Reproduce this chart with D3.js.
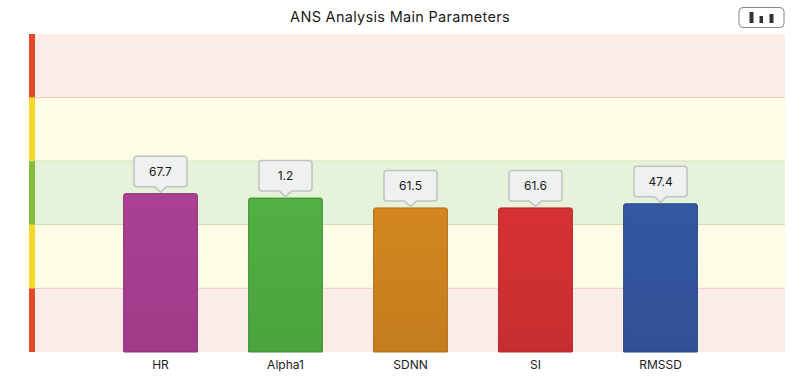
<!doctype html>
<html lang="en">
<head>
<meta charset="UTF-8" />
<title>ANS Analysis Main Parameters</title>
<style>
    html, body { margin: 0; padding: 0; background: #fff; overflow: hidden; }
    text { font-family: 'Inter', sans-serif; fill: #1c1c1c; }
    .chart-title { font-size: 14.5px; letter-spacing: 0.3px; }
    .tick text { font-size: 12px; }
    .callout-label { font-size: 12px; }
</style>
<script src="https://d3js.org/d3.v7.min.js"></script>
</head>
<body>
<div id="chart-container"></div>
<script>
var parameters = ['HR', 'Alpha1', 'SDNN', 'SI', 'RMSSD'];
// bar height on the 0-100 zone scale, the printed value is something else
var barLevels = [49.8, 48.4, 45.3, 45.3, 46.6];
var readings = ['67.7', '1.2', '61.5', '61.6', '47.4'];
var barColors = ['#a63e8f', '#4eab40', '#cd821f', '#d03033', '#33559d'];
var barEdges = ['#8c2f78', '#3f8f35', '#b06e18', '#b32428', '#264684'];

var zoneFrom = [80, 60, 40, 20, 0];
var zoneTo = [100, 80, 60, 40, 20];
var zoneFill = ['#fcece8', '#fefce6', '#e6f2d9', '#fefce6', '#fcece8'];
var zoneStrip = ['#e04a26', '#f5d82a', '#84bd3e', '#f5d82a', '#e04a26'];
var zoneLine = ['#e3a08e', '#aed08e', '#aed08e', '#e3a08e', null];

var canvasWidth = 800;
var canvasHeight = 378;

var svg1 = d3.select('#chart-container')
    .append('svg')
    .attr('width', canvasWidth)
    .attr('height', canvasHeight)
    .style('display', 'block');

var xScale = d3.scaleBand()
    .domain(parameters)
    .range([98, 723])
    .paddingInner(0.41)
    .paddingOuter(0.205);

var yScale = d3.scaleLinear()
    .domain([0, 100])
    .range([352, 34]);

var defs = svg1.append('defs');
barColors.forEach(function (c, i) {
    var grad = defs.append('linearGradient')
        .attr('id', 'bar-grad-' + i)
        .attr('x1', 0).attr('y1', 0).attr('x2', 0).attr('y2', 1);
    grad.append('stop').attr('offset', '0%').attr('stop-color', d3.color(c).brighter(0.08));
    grad.append('stop').attr('offset', '100%').attr('stop-color', d3.color(c).darker(0.12));
});

svg1.append('text')
    .attr('class', 'chart-title')
    .attr('x', 400)
    .attr('y', 22)
    .attr('text-anchor', 'middle')
    .text('ANS Analysis Main Parameters');

// zones
var zones = svg1.append('g');
zoneFrom.forEach(function (from, i) {
    zones.append('rect')
        .attr('x', 35)
        .attr('y', yScale(zoneTo[i]))
        .attr('width', 750)
        .attr('height', yScale(from) - yScale(zoneTo[i]))
        .attr('fill', zoneFill[i]);
    zones.append('rect')
        .attr('x', 29)
        .attr('y', yScale(zoneTo[i]))
        .attr('width', 6)
        .attr('height', yScale(from) - yScale(zoneTo[i]))
        .attr('fill', zoneStrip[i]);
    if (zoneLine[i]) {
        zones.append('line')
            .attr('x1', 35)
            .attr('x2', 785)
            .attr('y1', yScale(from))
            .attr('y2', yScale(from))
            .attr('stroke', zoneLine[i])
            .attr('stroke-width', 1);
    }
});

// bars
svg1.append('g').selectAll('path')
    .data(parameters)
    .enter()
    .append('path')
    .attr('d', function (d, i) {
        var x = xScale(d), w = xScale.bandwidth(), top = yScale(barLevels[i]), r = 2;
        return 'M' + x + ',' + yScale(0) + 'V' + (top + r) + 'Q' + x + ',' + top + ' ' + (x + r) + ',' + top +
            'H' + (x + w - r) + 'Q' + (x + w) + ',' + top + ' ' + (x + w) + ',' + (top + r) + 'V' + yScale(0) + 'Z';
    })
    .attr('fill', function (d, i) { return 'url(#bar-grad-' + i + ')'; })
    .attr('stroke', function (d, i) { return barEdges[i]; })
    .attr('stroke-width', 1);

// value callouts
var callout = svg1.append('g').selectAll('g')
    .data(parameters)
    .enter()
    .append('g')
    .attr('transform', function (d, i) {
        return 'translate(' + (xScale(d) + xScale.bandwidth() / 2) + ',' + yScale(barLevels[i]) + ')';
    });

callout.append('path')
    .attr('d', 'M-23.5,-37.5H23.5Q26.5,-37.5 26.5,-34.5V-10Q26.5,-7 23.5,-7H6L0,-1.5L-6,-7H-23.5Q-26.5,-7 -26.5,-10V-34.5Q-26.5,-37.5 -23.5,-37.5Z')
    .attr('fill', '#eff0f0')
    .attr('stroke', '#c0c4c0')
    .attr('stroke-width', 1.5);

callout.append('text')
    .attr('class', 'callout-label')
    .attr('y', -18)
    .attr('text-anchor', 'middle')
    .text(function (d, i) { return readings[i]; });

// x axis
svg1.append('g')
    .attr('transform', 'translate(0,352)')
    .call(d3.axisBottom(xScale).tickSize(0).tickPadding(8))
    .call(function (g) { g.select('.domain').remove(); })
    .selectAll('text')
    .attr('font-family', null)
    .attr('fill', null);

// chart type button in the corner
var button = svg1.append('g').attr('transform', 'translate(738.5,7)');
button.append('rect')
    .attr('x', 0.5).attr('y', 0.5)
    .attr('width', 45).attr('height', 20)
    .attr('rx', 4)
    .attr('fill', '#fff')
    .attr('stroke', '#888')
    .attr('stroke-width', 1);
button.append('path')
    .attr('d', 'M11,5h4v11h-4zM21,9h3.500v7h-3.500zM31,7h4v9h-4z')
    .attr('fill', '#333');
</script>
</body>
</html>
